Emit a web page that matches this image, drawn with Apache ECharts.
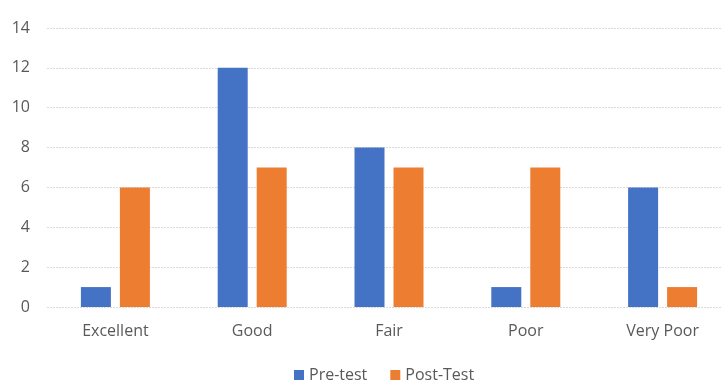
<!DOCTYPE html>
<html>
<head>
<meta charset="utf-8">
<script src="https://cdn.jsdelivr.net/npm/echarts@6/dist/echarts.min.js"></script>
<style>
  html, body { margin: 0; padding: 0; background: #fff; }
  #chart { width: 721px; height: 380px; }
</style>
</head>
<body>
<div id="chart"></div>
<script>
// Ratings before and after the test
const categories = ['Excellent', 'Good', 'Fair', 'Poor', 'Very Poor'];
const preTest = [1, 12, 8, 1, 6];
const postTest = [6, 7, 7, 7, 1];
const yTicks = { min: 0, max: 14, interval: 2 };

const chart = echarts.init(document.getElementById('chart'), null, { renderer: 'canvas' });
const font = '"Open Sans", "Noto Sans", sans-serif';

chart.setOption({
  animation: false,
  textStyle: { fontFamily: font },
  grid: { left: 47, top: 28, width: 684, height: 279, outerBoundsMode: 'none' },
  legend: {
    top: 362,
    left: 289,
    itemWidth: 10,
    itemHeight: 10,
    itemGap: 23,
    itemTextGap: 5,
    icon: 'rect',
    textStyle: { color: '#595959', fontSize: 16, fontFamily: font },
    data: ['Pre-test', 'Post-Test']
  },
  xAxis: {
    type: 'category',
    data: categories,
    axisLine: { show: false },
    axisTick: { show: false },
    axisLabel: { color: '#595959', fontSize: 16, margin: 16, fontFamily: font }
  },
  yAxis: {
    type: 'value',
    min: yTicks.min,
    max: yTicks.max,
    interval: yTicks.interval,
    axisLine: { show: false },
    axisTick: { show: false },
    axisLabel: { color: '#595959', fontSize: 16, margin: 17, fontFamily: font },
    splitLine: { lineStyle: { color: '#d9d9d9', width: 1, type: [2, 1] } }
  },
  series: [
    {
      name: 'Pre-test',
      type: 'bar',
      data: preTest,
      barWidth: 30,
      barGap: '30%',
      itemStyle: { color: '#4472c4' }
    },
    {
      name: 'Post-Test',
      type: 'bar',
      data: postTest,
      barWidth: 30,
      itemStyle: { color: '#ed7d31' }
    }
  ]
});
</script>
</body>
</html>
